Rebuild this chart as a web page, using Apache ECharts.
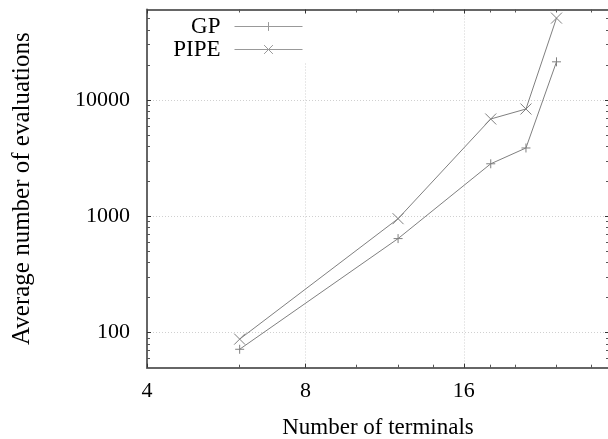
<!DOCTYPE html>
<html>
<head>
<meta charset="utf-8">
<script src="https://cdn.jsdelivr.net/npm/echarts@6/dist/echarts.min.js"></script>
<style>
html,body{margin:0;padding:0;background:#fff;}
#chart{width:608px;height:439px;}
</style>
</head>
<body>
<div id="chart"></div>
<script>
// ---- data ----
const terminals = [6, 12, 18, 21, 24];
const gpEvals   = [72, 644, 2830, 3870, 21300];
const pipeEvals = [88, 955, 6870, 8370, 50600];
const xMajorTicks = [4, 8, 16];
const xMinorTicks = [6, 10, 12, 14, 18, 20, 24, 28];
const yMajorTicks = [100, 1000, 10000];
const yMinorTicks = [60, 70, 80, 90, 200, 300, 400, 500, 600, 700, 800, 900,
                     2000, 3000, 4000, 5000, 6000, 7000, 8000, 9000, 20000, 30000, 40000, 50000];
const seriesNames = ['GP', 'PIPE'];

const FONT = 'Liberation Serif';
const AXIS_COLOR = '#666';
const LINE_COLOR = '#808080';
const X_MIN = 4, X_MAX = 30.2, Y_MIN = 50, Y_MAX = 60000;

function xAx(pos, opts) {
  return Object.assign({
    type: 'log', logBase: 2, min: X_MIN, max: X_MAX, position: pos, gridIndex: 0,
    axisLine: {show: false}, axisLabel: {show: false}, splitLine: {show: false},
    axisTick: {show: false}, minorTick: {show: false}
  }, opts);
}
function yAx(pos, opts) {
  return Object.assign({
    type: 'log', logBase: 10, min: Y_MIN, max: Y_MAX, position: pos, gridIndex: 0,
    axisLine: {show: false}, axisLabel: {show: false}, splitLine: {show: false},
    axisTick: {show: false}, minorTick: {show: false}
  }, opts);
}

const chart = echarts.init(document.getElementById('chart'), null, {renderer: 'canvas'});
const plusPath = 'path://M0,5L10,5M5,0L5,10';
const crossPath = 'path://M0,0L10,10M10,0L0,10';

const option = {
  animation: false,
  backgroundColor: '#fff',
  grid: {left: 147, top: 9.5, width: 462, height: 358.2, containLabel: false, outerBoundsMode: 'none'},
  legend: {
    orient: 'vertical', align: 'right', right: 299, top: 12,
    padding: [3, 6, 2, 4], itemGap: 0, itemWidth: 68, itemHeight: 11,
    backgroundColor: '#fff', selectedMode: false, z: 3,
    lineStyle: {width: 1, color: '#999'},
    itemStyle: {borderWidth: 1, borderColor: '#999', color: '#999'},
    textStyle: {fontFamily: FONT, fontSize: 23, color: '#000', lineHeight: 23, padding: [0, 9, 0, 0]},
    data: seriesNames
  },
  xAxis: [
    xAx('bottom', {
      axisLine: {show: true, onZero: false, lineStyle: {color: AXIS_COLOR, width: 2}},
      axisTick: {show: true, inside: true, length: 4, customValues: xMajorTicks, lineStyle: {color: '#333', width: 1}},
      axisLabel: {show: true, customValues: xMajorTicks, margin: 13, fontFamily: FONT, fontSize: 22, color: '#000',
                  formatter: v => String(v)},
      splitLine: {show: true, lineStyle: {color: '#d0d0d0', type: [1, 2], width: 1}},
      name: 'Number of terminals', nameLocation: 'middle', nameGap: 49,
      nameTextStyle: {fontFamily: FONT, fontSize: 23, color: '#000'}
    }),
    xAx('bottom', {axisTick: {show: true, inside: true, length: 3, customValues: xMinorTicks, lineStyle: {color: '#555', width: 1}}}),
    xAx('top', {
      z: 5,
      axisLine: {show: true, onZero: false, lineStyle: {color: AXIS_COLOR, width: 2}},
      axisTick: {show: true, inside: true, length: 4, customValues: xMajorTicks, lineStyle: {color: '#333', width: 1}}
    }),
    xAx('top', {z: 5, axisTick: {show: true, inside: true, length: 3, customValues: xMinorTicks, lineStyle: {color: '#555', width: 1}}})
  ],
  yAxis: [
    yAx('left', {
      axisLine: {show: true, onZero: false, lineStyle: {color: AXIS_COLOR, width: 2}},
      axisTick: {show: true, inside: true, length: 4, customValues: yMajorTicks, lineStyle: {color: '#333', width: 1}},
      axisLabel: {show: true, customValues: yMajorTicks, margin: 17, fontFamily: FONT, fontSize: 22, color: '#000',
                  formatter: v => String(v)},
      splitLine: {show: true, lineStyle: {color: '#d0d0d0', type: [1, 2], width: 1}},
      name: 'Average number of evaluations', nameLocation: 'middle', nameGap: 112,
      nameTextStyle: {fontFamily: FONT, fontSize: 25, color: '#000'}
    }),
    yAx('left', {axisTick: {show: true, inside: true, length: 3, customValues: yMinorTicks, lineStyle: {color: '#555', width: 1}}}),
    yAx('right', {
      axisLine: {show: true, onZero: false, lineStyle: {color: AXIS_COLOR, width: 2}},
      axisTick: {show: true, inside: true, length: 4, customValues: yMajorTicks, lineStyle: {color: '#333', width: 1}}
    }),
    yAx('right', {axisTick: {show: true, inside: true, length: 3, customValues: yMinorTicks, lineStyle: {color: '#555', width: 1}}})
  ],
  series: [
    {
      name: seriesNames[0], type: 'line', xAxisIndex: 0, yAxisIndex: 0,
      data: terminals.map((t, i) => [t, gpEvals[i]]),
      symbol: plusPath, symbolSize: 9,
      itemStyle: {color: LINE_COLOR, borderColor: LINE_COLOR, borderWidth: 1},
      lineStyle: {color: LINE_COLOR, width: 1},
      emphasis: {disabled: true}, z: 2
    },
    {
      name: seriesNames[1], type: 'line', xAxisIndex: 0, yAxisIndex: 0,
      data: terminals.map((t, i) => [t, pipeEvals[i]]),
      symbol: crossPath, symbolSize: 11,
      itemStyle: {color: LINE_COLOR, borderColor: LINE_COLOR, borderWidth: 1},
      lineStyle: {color: LINE_COLOR, width: 1},
      emphasis: {disabled: true}, z: 2
    }
  ]
};
chart.setOption(option);
</script>
</body>
</html>
